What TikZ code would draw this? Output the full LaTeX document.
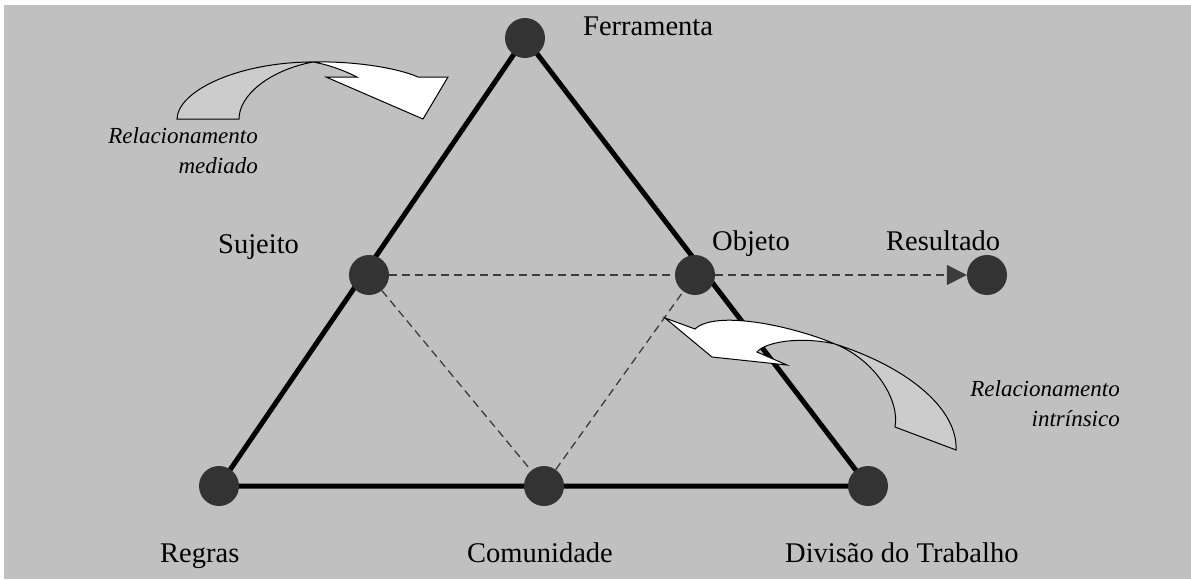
\documentclass[tikz,border=0pt]{standalone}
\usepackage{fontspec}
\setmainfont{Liberation Serif}
\usetikzlibrary{arrows.meta}
\definecolor{fundo}{HTML}{C0C0C0}
\definecolor{ponto}{HTML}{333333}
\definecolor{cauda}{HTML}{CCCCCC}
\definecolor{tracejado}{HTML}{3C3C3C}
\pgfdeclarelayer{atras}
\pgfsetlayers{atras,main}

\begin{document}
\begin{tikzpicture}[x=1pt,y=-1pt,
  ponto/.style={circle,fill=ponto,minimum size=40pt,inner sep=0pt},
  rotulo/.style={font=\fontsize{28.5}{34}\selectfont,inner sep=0pt,anchor=base west},
  nota/.style={font=\fontsize{23}{30}\selectfont\itshape,align=right,inner sep=0pt,anchor=base east},
  lado/.style={line width=5pt},
  tracos/.style={tracejado,line width=1.3pt,dash pattern=on 8pt off 5pt},
  seta/.style={line width=1pt,line join=miter}]
\useasboundingbox (0,0) rectangle (1191,579);
\begin{pgfonlayer}{atras}
\fill[white] (0,0) rectangle (1191,579);
\fill[fundo] (4,5) rectangle (1191,579);
\end{pgfonlayer}

% pontos
\node[ponto] (ferramenta) at (525,38) {};
\node[ponto] (sujeito) at (369,275) {};
\node[ponto] (objeto) at (695,275) {};
\node[ponto] (resultado) at (987,275) {};
\node[ponto] (regras) at (219,486) {};
\node[ponto] (comunidade) at (544,486) {};
\node[ponto] (divisao) at (868,486) {};

% triangulo e tracejados
\begin{pgfonlayer}{atras}
\draw[tracos] (sujeito) -- (objeto);
\draw[tracos] (sujeito) -- (comunidade);
\draw[tracos] (comunidade) -- (objeto);
\draw[tracos,-{Triangle[length=20pt,width=20pt]}] (objeto) -- (resultado);
\draw[lado] (ferramenta.center) -- (regras.center) -- (divisao.center) -- cycle;
\end{pgfonlayer}

% rotulos
\node[rotulo] (lferramenta) at (583,35) {Ferramenta};
\node[rotulo] (lsujeito) at (218,253) {Sujeito};
\node[rotulo] (lobjeto) at (712,250) {Objeto};
\node[rotulo] (lresultado) at (886,250) {Resultado};
\node[rotulo] (lregras) at (160,562) {Regras};
\node[rotulo] (lcomunidade) at (467,562) {Comunidade};
\node[rotulo] (ldivisao) at (785,562) {Divisão do Trabalho};
\node[nota] (mediado) at (258,173) {Relacionamento\\mediado};
\node[nota] (intrinsico) at (1120,426) {Relacionamento\\intrínsico};

% seta curva de cima
\filldraw[seta,fill=cauda] (177,119) .. controls (178,90) and (240,62) .. (313,62)
  .. controls (270,70) and (239,95) .. (239,119) -- cycle;
\filldraw[seta,fill=white] (313,62) .. controls (350,61) and (395,67) .. (418,77)
  -- (448,77) -- (423,119) -- (326,77) -- (357,77)
  .. controls (345,71) and (330,65) .. (313,62) -- cycle;

% seta curva de baixo
\filldraw[seta,fill=cauda] (835,344) .. controls (910,368) and (958,410) .. (956,450)
  -- (895,427) .. controls (900,400) and (875,360) .. (835,344) -- cycle;
\filldraw[seta,fill=white] (835,344) .. controls (790,325) and (715,310) .. (695,329)
  -- (665,318) -- (712,357) -- (787,365) -- (757,352)
  .. controls (765,342) and (800,336) .. (835,344) -- cycle;
\end{tikzpicture}
\end{document}
